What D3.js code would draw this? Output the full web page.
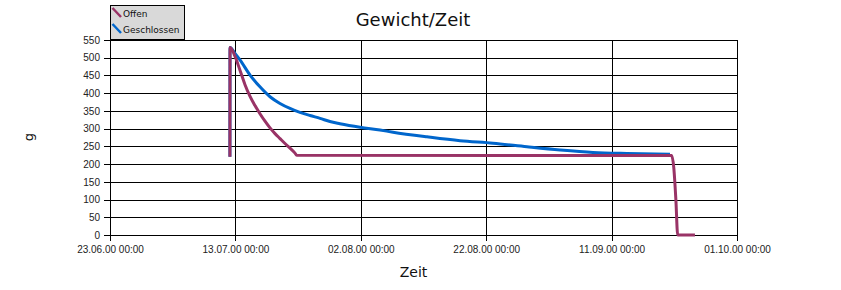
<!DOCTYPE html>
<html>
<head>
<meta charset="utf-8">
<script src="https://cdn.jsdelivr.net/npm/d3@7"></script>
<style>
  body { margin: 0; background: #fff; }
  svg { font-family: 'DejaVu Sans', sans-serif; }
  .tick-label { font-size: 10px; fill: #222; }
  .grid line { stroke: #000; stroke-width: 1; shape-rendering: crispEdges; }
</style>
</head>
<body>
<svg id="chart"></svg>
<script>
const seriesNames = ['Offen', 'Geschlossen'];
const seriesColors = ['#993366', '#0066cc'];

const xTicks = ['2000-06-23 00:00', '2000-07-13 00:00', '2000-08-02 00:00',
  '2000-08-22 00:00', '2000-09-11 00:00', '2000-10-01 00:00'];
const yTicks = [0, 50, 100, 150, 200, 250, 300, 350, 400, 450, 500, 550];

// [Zeit, Gewicht in g]
const offenPoints = [
  ['2000-07-12 03:00', 221],
  ['2000-07-12 03:30', 529],
  ['2000-07-12 22:30', 504],
  ['2000-07-13 17:30', 465],
  ['2000-07-14 12:45', 424],
  ['2000-07-15 08:00', 391],
  ['2000-07-16 03:00', 365],
  ['2000-07-16 22:00', 342],
  ['2000-07-17 17:20', 321],
  ['2000-07-18 12:30', 302],
  ['2000-07-19 07:40', 286],
  ['2000-07-20 02:40', 272],
  ['2000-07-20 21:50', 258],
  ['2000-07-21 17:00', 245],
  ['2000-07-22 12:10', 231],
  ['2000-07-22 18:40', 225],
  ['2000-09-20 14:00', 224],
  ['2000-09-20 22:00', 190],
  ['2000-09-21 06:00', 100],
  ['2000-09-21 13:00', 0],
  ['2000-09-24 07:00', 0],
];

const geschlossenPoints = [
  ['2000-07-12 03:00', 221],
  ['2000-07-12 03:30', 529],
  ['2000-07-12 22:30', 512],
  ['2000-07-13 17:30', 494],
  ['2000-07-15 08:00', 451],
  ['2000-07-16 22:00', 418],
  ['2000-07-18 12:30', 390],
  ['2000-07-20 02:40', 371],
  ['2000-07-21 17:00', 357],
  ['2000-07-23 07:00', 346],
  ['2000-07-24 21:30', 337],
  ['2000-07-26 12:00', 329],
  ['2000-07-28 02:00', 320],
  ['2000-07-29 16:00', 314],
  ['2000-08-01 21:00', 304],
  ['2000-08-05 01:30', 296],
  ['2000-08-07 03:20', 290],
  ['2000-08-12 13:30', 277],
  ['2000-08-17 19:45', 266],
  ['2000-08-23 02:00', 259],
  ['2000-08-28 12:00', 249],
  ['2000-09-02 18:30', 240],
  ['2000-09-08 00:45', 233],
  ['2000-09-13 11:00', 230],
  ['2000-09-20 07:30', 228],
];

class LineChart {
  constructor(_config) {
    this.config = {
      parentElement: _config.parentElement,
      width: _config.width,
      height: _config.height,
      margin: _config.margin,
    };
    this.initVis();
  }

  initVis() {
    const vis = this;
    const { width, height, margin, parentElement } = vis.config;
    const parseTime = d3.timeParse('%Y-%m-%d %H:%M');
    const formatTime = d3.timeFormat('%d.%m.%y %H:%M');

    vis.innerW = width - margin.left - margin.right;
    vis.innerH = height - margin.top - margin.bottom;

    vis.svg = d3.select(parentElement)
      .attr('width', width)
      .attr('height', height);

    vis.chart = vis.svg.append('g')
      .attr('transform', `translate(${margin.left},${margin.top})`);

    const xTickDates = xTicks.map(parseTime);

    vis.xScale = d3.scaleTime()
      .domain([xTickDates[0], xTickDates[xTickDates.length - 1]])
      .range([0, vis.innerW]);

    vis.yScale = d3.scaleLinear()
      .domain([0, 550])
      .range([vis.innerH, 0]);

    // gridlines
    vis.chart.append('g')
      .attr('class', 'grid')
      .call(d3.axisLeft(vis.yScale).tickValues(yTicks).tickSize(-vis.innerW).tickFormat(''))
      .call((g) => g.select('.domain').remove());

    vis.chart.append('g')
      .attr('class', 'grid')
      .attr('transform', `translate(0,${vis.innerH})`)
      .call(d3.axisBottom(vis.xScale).tickValues(xTickDates).tickSize(-vis.innerH).tickFormat(''))
      .call((g) => g.select('.domain').remove());

    // axes
    const yAxis = vis.chart.append('g')
      .attr('class', 'grid')
      .call(d3.axisLeft(vis.yScale).tickValues(yTicks).tickSize(6).tickPadding(4));
    yAxis.select('.domain').attr('stroke', '#000').attr('shape-rendering', 'crispEdges');
    yAxis.selectAll('text').attr('class', 'tick-label').attr('font-size', null).attr('font-family', null);

    const xAxis = vis.chart.append('g')
      .attr('class', 'grid')
      .attr('transform', `translate(0,${vis.innerH})`)
      .call(d3.axisBottom(vis.xScale).tickValues(xTickDates).tickSize(6).tickPadding(5)
        .tickFormat(formatTime));
    xAxis.select('.domain').attr('stroke', '#000').attr('shape-rendering', 'crispEdges');
    xAxis.selectAll('text').attr('class', 'tick-label').attr('font-size', null).attr('font-family', null);

    // lines
    const line = d3.line()
      .curve(d3.curveMonotoneX)
      .x((d) => vis.xScale(parseTime(d[0])))
      .y((d) => vis.yScale(d[1]));

    const series = [geschlossenPoints, offenPoints];
    const colors = [seriesColors[1], seriesColors[0]];
    series.forEach((pts, i) => {
      vis.chart.append('path')
        .datum(pts)
        .attr('fill', 'none')
        .attr('stroke', colors[i])
        .attr('stroke-width', 3)
        .attr('stroke-linejoin', 'round')
        .attr('d', line);
    });

    // labels
    vis.svg.append('text')
      .attr('x', 413)
      .attr('y', 26)
      .attr('text-anchor', 'middle')
      .attr('font-size', 18)
      .attr('fill', '#111')
      .text('Gewicht/Zeit');

    vis.svg.append('text')
      .attr('x', margin.left + vis.innerW / 2 - 10)
      .attr('y', 277)
      .attr('text-anchor', 'middle')
      .attr('font-size', 14)
      .attr('fill', '#111')
      .text('Zeit');

    vis.svg.append('text')
      .attr('transform', 'translate(33,137) rotate(-90)')
      .attr('text-anchor', 'middle')
      .attr('font-size', 13)
      .attr('fill', '#111')
      .text('g');

    // legend
    const legend = vis.svg.append('g');
    legend.append('rect')
      .attr('x', 110.5)
      .attr('y', 5.5)
      .attr('width', 74)
      .attr('height', 34)
      .attr('fill', '#d9d9d9')
      .attr('stroke', '#000');

    seriesNames.forEach((name, i) => {
      const y0 = 8 + i * 16;
      legend.append('line')
        .attr('x1', 112.5).attr('y1', y0)
        .attr('x2', 121).attr('y2', y0 + 9)
        .attr('stroke', seriesColors[i])
        .attr('stroke-width', 2.5);
      legend.append('text')
        .attr('x', 123)
        .attr('y', y0 + 9)
        .attr('font-size', 9)
        .attr('fill', '#111')
        .text(name);
    });
  }
}

new LineChart({
  parentElement: '#chart',
  width: 841,
  height: 290,
  margin: { top: 40, right: 104, bottom: 55, left: 110 },
});
</script>
</body>
</html>
